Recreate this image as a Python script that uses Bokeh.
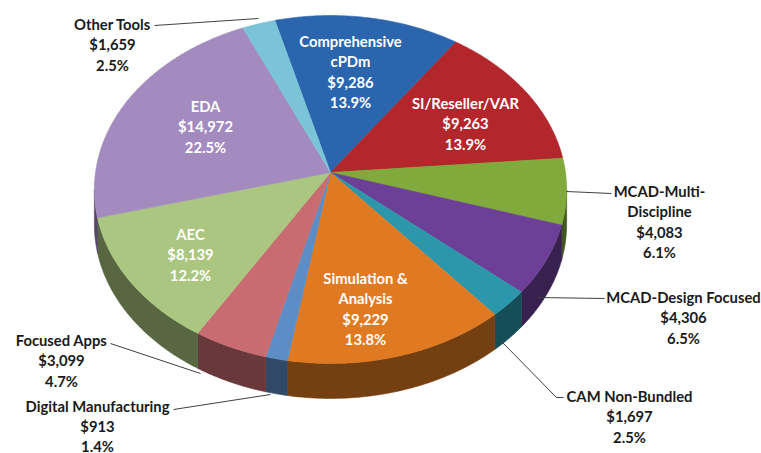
import numpy as np
from bokeh.plotting import figure
from bokeh.models import Range1d, ColumnDataSource
from bokeh.core.properties import value
from bokeh.embed import file_html
from bokeh.resources import INLINE

# ---------------- data ----------------
categories = ["Comprehensive cPDm", "SI/Reseller/VAR", "MCAD-Multi-Discipline",
              "MCAD-Design Focused", "CAM Non-Bundled", "Simulation & Analysis",
              "Digital Manufacturing", "Focused Apps", "AEC", "EDA", "Other Tools"]
values = [9286, 9263, 4083, 4306, 1697, 9229, 913, 3099, 8139, 14972, 1659]
pct_labels = ["13.9%", "13.9%", "6.1%", "6.5%", "2.5%", "13.8%", "1.4%", "4.7%",
              "12.2%", "22.5%", "2.5%"]
name_lines = [["Comprehensive", "cPDm"], ["SI/Reseller/VAR"], ["MCAD-Multi-", "Discipline"],
              ["MCAD-Design Focused"], ["CAM Non-Bundled"], ["Simulation &", "Analysis"],
              ["Digital Manufacturing"], ["Focused Apps"], ["AEC"], ["EDA"], ["Other Tools"]]

# ---------------- styles / layout ----------------
colors = ["#2A65AE", "#B2262C", "#80AB3C", "#6C4096", "#2C97AB", "#E07A22",
          "#5C8DC6", "#C96C71", "#AAC680", "#A38BBF", "#7BC4D8"]
inside = [True, True, False, False, False, True, False, False, True, True, False]
# first-line anchor of each label (screen px)
label_x = [350, 465, 659, 683, 629, 365, 97, 61, 190, 205, 112]
label_y = [40, 102, 190, 296, 395, 277, 405, 339, 233, 105, 23]
line_h = [20.5, 20.5, 20.5, 20.5, 20.5, 20.5, 20.0, 20.5, 20.5, 20.5, 20.5]
# leader lines for outside labels
leaders = {
    2: ([566, 611], [191, 193]),
    3: ([537, 604], [297, 298]),
    4: ([502, 556, 563], [342, 397, 397]),
    6: ([173, 270], [409, 394]),
    7: ([110, 200], [343, 373]),
    10: ([154, 258], [25, 18]),
}

# perspective pie geometry (screen px)
APX, APY = 330.0, 172.0
A, B, K = 235.0, 172.3, 0.0977
D = 35.0
START = -15.0


def proj(theta_deg, rho=1.0):
    t = np.radians(theta_deg)
    u = rho * np.sin(t)
    v = rho * np.cos(t)
    den = 1 + K * v
    return APX + A * u / den, APY - B * v / den


def darken(hexc, f=0.5):
    r, g, b = int(hexc[1:3], 16), int(hexc[3:5], 16), int(hexc[5:7], 16)
    return "#%02x%02x%02x" % (int(r * f), int(g * f), int(b * f))


total = float(sum(values))
angles = [START]
for v in values:
    angles.append(angles[-1] + 360.0 * v / total)

vis0 = 90 + np.degrees(np.arcsin(K))
vis1 = 270 - np.degrees(np.arcsin(K))

top_xs, top_ys, side_xs, side_ys, side_cols = [], [], [], [], []
for i in range(len(values)):
    a0, a1 = angles[i], angles[i + 1]
    n = max(3, int((a1 - a0) * 2))
    th = np.linspace(a0, a1, n)
    x, y = proj(th)
    top_xs.append([APX] + list(x))
    top_ys.append([APY] + list(y))
    s0, s1 = max(a0, vis0), min(a1, vis1)
    if s1 > s0:
        th2 = np.linspace(s0, s1, max(3, int((s1 - s0) * 2)))
        x2, y2 = proj(th2)
        side_xs.append(list(x2) + list(x2[::-1]))
        side_ys.append(list(y2) + list((y2 + D)[::-1]))
        side_cols.append(darken(colors[i], 0.52))

W, H = 761, 453
p = figure(width=W, height=H, output_backend="svg", toolbar_location=None,
           x_range=Range1d(0, W), y_range=Range1d(H, 0))
p.axis.visible = False
p.grid.visible = False
p.outline_line_color = None
p.min_border = 0
p.background_fill_color = "white"
p.border_fill_color = "white"

p.patches(xs=side_xs, ys=side_ys, fill_color=side_cols, line_color=side_cols, line_width=0.6)
p.patches(xs=top_xs, ys=top_ys, fill_color=colors, line_color=colors, line_width=0.6)

lx, ly = [], []
for i, (xs, ys) in leaders.items():
    lx.append(xs)
    ly.append(ys)
p.multi_line(xs=lx, ys=ly, line_color="#404040", line_width=1)

tx, ty, tt, tc = [], [], [], []
for i in range(len(values)):
    lines = name_lines[i] + ["${:,}".format(values[i]), pct_labels[i]]
    for j, s in enumerate(lines):
        tx.append(label_x[i])
        ty.append(label_y[i] + j * line_h[i])
        tt.append(s)
        tc.append("white" if inside[i] else "#1a1a1a")

src = ColumnDataSource(dict(x=tx, y=ty, text=tt, color=tc))
p.text(x="x", y="y", text="text", source=src, text_color="color",
       text_font=value("Lato"), text_font_style="bold", text_font_size="14.8px",
       text_align="center", text_baseline="middle")

open("out.html", "w").write(file_html(p, INLINE))
